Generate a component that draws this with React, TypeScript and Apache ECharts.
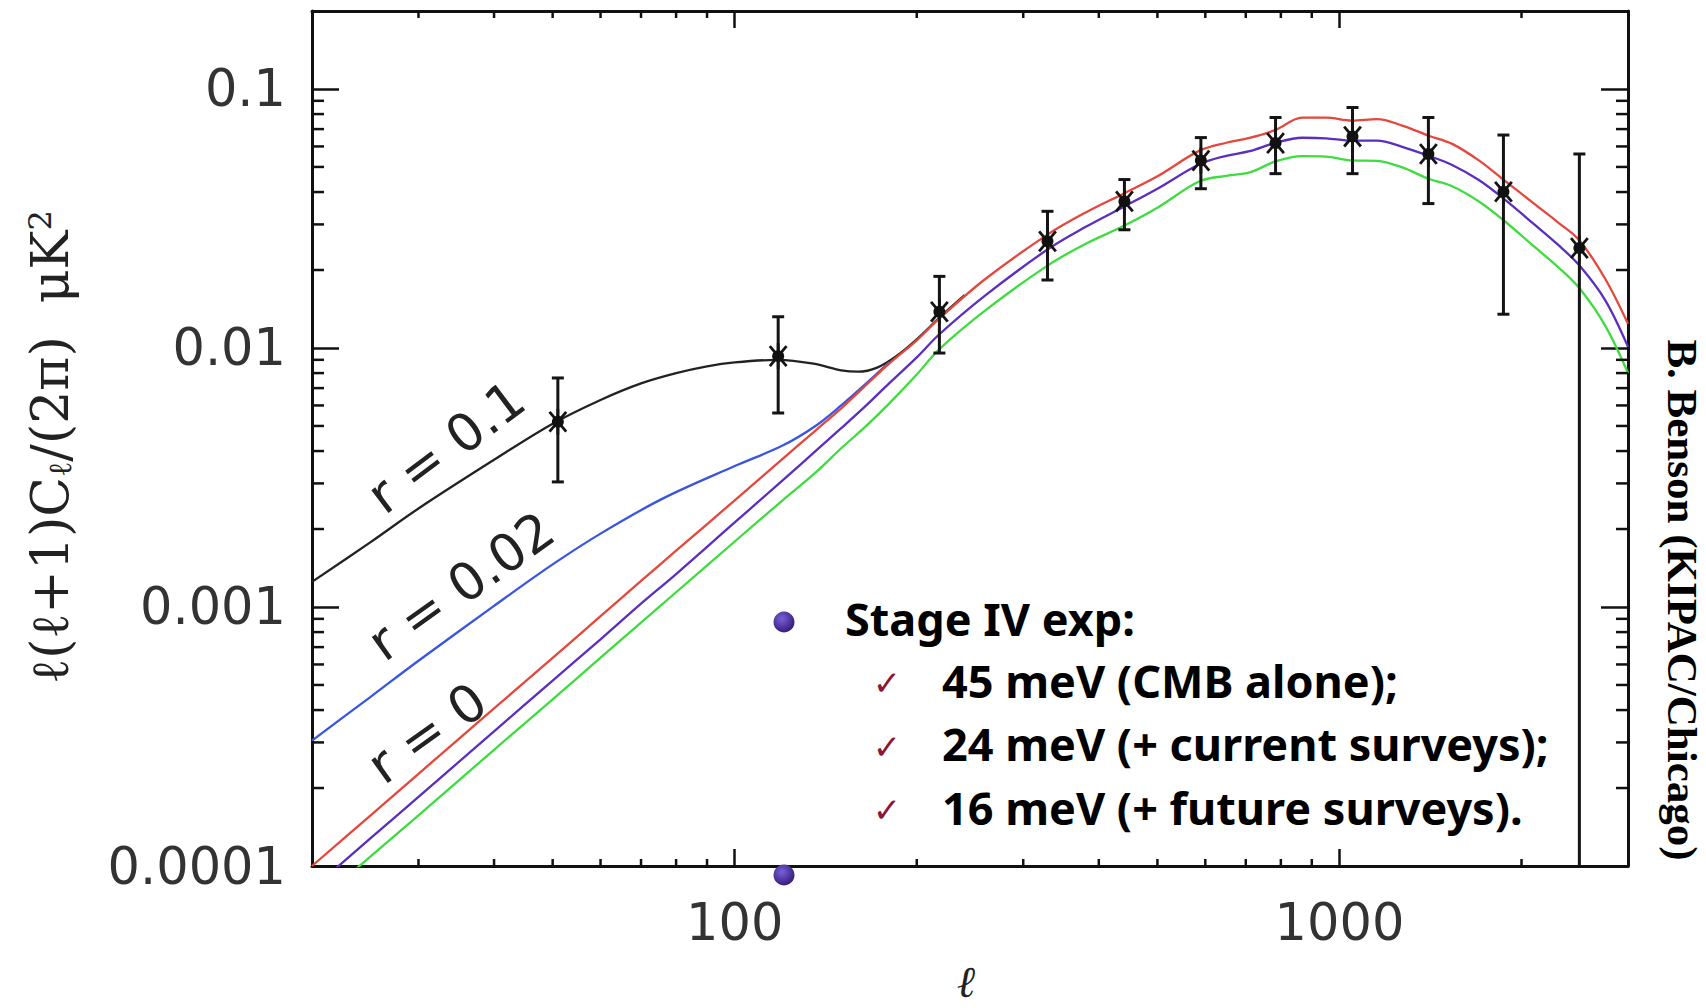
import React, { useEffect, useRef } from 'react';
import * as echarts from 'echarts';

// ---- axis ranges ----
const X_MIN = 20;
const X_MAX = 3000;
const Y_MIN = 0.0001;
const Y_MAX = 0.2;

const X_TICK_LABELS = ['100', '1000'];
const Y_TICK_LABELS = ['0.0001', '0.001', '0.01', '0.1'];
const MINOR_X = [30, 40, 50, 60, 70, 80, 90, 200, 300, 400, 500, 600, 700, 800, 900, 2000];
const MINOR_Y = [
  0.0002, 0.0003, 0.0004, 0.0005, 0.0006, 0.0007, 0.0008, 0.0009,
  0.002, 0.003, 0.004, 0.005, 0.006, 0.007, 0.008, 0.009,
  0.02, 0.03, 0.04, 0.05, 0.06, 0.07, 0.08, 0.09,
];

// ---- lensing B-mode curves (red / purple / green) ----
const ELL = [20, 25, 30, 40, 50, 60, 70, 80, 100, 120, 136, 150, 165, 180, 200, 218, 260, 329, 380, 441, 500, 587, 650, 710, 784, 868, 950, 1049, 1154, 1270, 1404, 1533, 1700, 1866, 2100, 2300, 2494, 2750, 3000];
const RED = [0.0001, 0.000157, 0.000227, 0.000406, 0.000636, 0.000922, 0.00126, 0.00165, 0.00258, 0.00373, 0.0048, 0.00585, 0.0072, 0.0087, 0.0107, 0.013, 0.0185, 0.0274, 0.0333, 0.0396, 0.046, 0.0578, 0.062, 0.0647, 0.0695, 0.0775, 0.0775, 0.0755, 0.0765, 0.0722, 0.066, 0.0615, 0.053, 0.0447, 0.036, 0.0305, 0.026, 0.0185, 0.0124];
const PURPLE = [0.0000815, 0.000128, 0.000185, 0.000331, 0.00052, 0.00075, 0.00103, 0.00134, 0.00212, 0.00308, 0.004, 0.0049, 0.006, 0.0073, 0.0092, 0.0113, 0.016, 0.024, 0.0293, 0.0352, 0.0412, 0.0512, 0.0552, 0.0575, 0.062, 0.0648, 0.0645, 0.0632, 0.0632, 0.0598, 0.0552, 0.051, 0.0445, 0.0378, 0.03, 0.025, 0.0208, 0.0153, 0.0101];
const GREEN = [0.0000693, 0.000109, 0.000157, 0.000281, 0.00044, 0.000637, 0.000871, 0.00114, 0.00179, 0.00258, 0.0033, 0.0041, 0.005, 0.0061, 0.0079, 0.0099, 0.014, 0.0208, 0.0252, 0.0297, 0.0348, 0.044, 0.0462, 0.0476, 0.0525, 0.055, 0.0548, 0.053, 0.0528, 0.0498, 0.045, 0.0422, 0.0368, 0.0312, 0.0246, 0.0205, 0.017, 0.0122, 0.008];

// ---- r = 0.02 (blue) and r = 0.1 (black) totals ----
const BLUE_ELL = [20, 25, 30, 40, 50, 60, 76, 100, 120, 136, 150, 165, 180];
const BLUE = [0.000305, 0.00045, 0.00062, 0.00101, 0.00146, 0.00192, 0.00262, 0.0035, 0.0042, 0.005, 0.006, 0.0073, 0.0088];
const BLACK_ELL = [20, 25, 30, 40, 50, 60, 70, 80, 90, 100, 118, 135, 150, 160, 172, 185, 200, 218, 240];
const BLACK = [0.00125, 0.00178, 0.0024, 0.0037, 0.0051, 0.0063, 0.0073, 0.008, 0.0085, 0.0088, 0.009, 0.0087, 0.0082, 0.0081, 0.0084, 0.0093, 0.0108, 0.0131, 0.016];

// ---- data points with error bars ----
const PT_ELL = [51, 118, 218, 329, 441, 590, 784, 1051, 1403, 1867, 2493];
const PT_VAL = [0.00519, 0.0093, 0.0138, 0.0258, 0.0368, 0.0529, 0.0618, 0.0655, 0.0561, 0.0401, 0.0243];
const PT_LO = [0.00304, 0.00561, 0.00956, 0.0183, 0.0286, 0.0412, 0.0471, 0.0471, 0.0361, 0.0135, 0.0001];
const PT_HI = [0.00766, 0.0132, 0.0189, 0.0337, 0.0447, 0.0649, 0.0776, 0.0848, 0.0776, 0.0664, 0.0561];

// ---- texts ----
const CURVE_NOTES = ['r = 0.1', 'r = 0.02', 'r = 0'];
const BULLET_TITLE = 'Stage IV exp:';
const BULLET_ITEMS = ['45 meV (CMB alone);', '24 meV (+ current surveys);', '16 meV (+ future surveys).'];
const CREDIT = 'B. Benson (KIPAC/Chicago)';

const AXIS_COLOR = '#111';
const TICK_FONT = 'DejaVu Sans';

function xLabel(v: number) {
  const s = String(Math.round(v));
  return X_TICK_LABELS.includes(s) ? s : '';
}
function yLabel(v: number) {
  const lg = Math.log10(v);
  const e = Math.round(lg);
  if (Math.abs(lg - e) > 1e-6 || e >= 0) return '';
  const s = Math.pow(10, e).toFixed(-e);
  return Y_TICK_LABELS.includes(s) ? s : '';
}

function makeXAxis(position: 'bottom' | 'top') {
  return {
    type: 'log',
    logBase: 10,
    min: X_MIN,
    max: X_MAX,
    position,
    axisLine: { show: true, onZero: false, lineStyle: { color: AXIS_COLOR, width: 3 } },
    axisTick: { show: true, inside: true, length: 17, lineStyle: { color: AXIS_COLOR, width: 2.5 } },
    axisLabel: {
      show: position === 'bottom',
      margin: 31,
      fontFamily: TICK_FONT,
      fontSize: 51,
      color: '#333',
      showMinLabel: false,
      showMaxLabel: false,
      formatter: xLabel,
    },
    splitLine: { show: false },
  };
}
function makeYAxis(position: 'left' | 'right') {
  return {
    type: 'log',
    logBase: 10,
    min: Y_MIN,
    max: Y_MAX,
    position,
    axisLine: { show: true, onZero: false, lineStyle: { color: AXIS_COLOR, width: 3 } },
    axisTick: { show: true, inside: true, length: 27, lineStyle: { color: AXIS_COLOR, width: 2.5 } },
    axisLabel: {
      show: position === 'left',
      margin: 26,
      fontFamily: TICK_FONT,
      fontSize: 51,
      color: '#333',
      showMinLabel: true,
      showMaxLabel: false,
      formatter: yLabel,
    },
    splitLine: { show: false },
  };
}

function lineSeries(name: string, ells: number[], vals: number[], color: string, z: number) {
  return {
    name,
    type: 'line',
    data: ells.map((l, i) => [l, vals[i]]),
    smooth: 0.35,
    showSymbol: false,
    symbol: 'none',
    clip: true,
    lineStyle: { color, width: 2.3 },
    z,
  };
}

const centered = { align: 'center', verticalAlign: 'middle', textAlign: 'center', textVerticalAlign: 'middle' };
const leftMid = { align: 'left', verticalAlign: 'middle', textAlign: 'left', textVerticalAlign: 'middle' };

export default function App() {
  const ref = useRef<HTMLDivElement>(null);

  useEffect(() => {
    if (!ref.current) return;
    const chart = echarts.init(ref.current, undefined, { renderer: 'svg' });

    const tickStyle = { stroke: AXIS_COLOR, lineWidth: 2.5 };

    const option: any = {
      animation: false,
      backgroundColor: '#fff',
      grid: { left: 312, right: 78, top: 11, bottom: 142, containLabel: false, outerBoundsMode: 'none' },
      xAxis: [makeXAxis('bottom'), makeXAxis('top')],
      yAxis: [makeYAxis('left'), makeYAxis('right')],
      series: [
        lineSeries('r = 0.1', BLACK_ELL, BLACK, '#222222', 2),
        lineSeries('r = 0.02', BLUE_ELL, BLUE, '#3a55e0', 2),
        lineSeries('green', ELL, GREEN, '#3fdc3f', 3),
        lineSeries('purple', ELL, PURPLE, '#5a2ec0', 3),
        lineSeries('red', ELL, RED, '#e5473c', 3),
        {
          name: 'minorX',
          type: 'custom',
          xAxisIndex: 0,
          yAxisIndex: 0,
          data: MINOR_X.map((v) => [v, Y_MIN]),
          encode: { x: 0, y: 1 },
          z: 6,
          silent: true,
          renderItem: (_p: any, api: any) => {
            const v = api.value(0);
            const b = api.coord([v, Y_MIN]);
            const t = api.coord([v, Y_MAX]);
            return {
              type: 'group',
              children: [
                { type: 'line', shape: { x1: b[0], y1: b[1], x2: b[0], y2: b[1] - 7 }, style: tickStyle },
                { type: 'line', shape: { x1: t[0], y1: t[1], x2: t[0], y2: t[1] + 7 }, style: tickStyle },
              ],
            };
          },
        },
        {
          name: 'minorY',
          type: 'custom',
          xAxisIndex: 0,
          yAxisIndex: 0,
          data: MINOR_Y.map((v) => [X_MIN, v]),
          encode: { x: 0, y: 1 },
          z: 6,
          silent: true,
          renderItem: (_p: any, api: any) => {
            const v = api.value(1);
            const l = api.coord([X_MIN, v]);
            const r = api.coord([X_MAX, v]);
            return {
              type: 'group',
              children: [
                { type: 'line', shape: { x1: l[0], y1: l[1], x2: l[0] + 12, y2: l[1] }, style: tickStyle },
                { type: 'line', shape: { x1: r[0], y1: r[1], x2: r[0] - 12, y2: r[1] }, style: tickStyle },
              ],
            };
          },
        },
        {
          name: 'points',
          type: 'custom',
          xAxisIndex: 0,
          yAxisIndex: 0,
          data: PT_ELL.map((l, i) => [l, PT_VAL[i], PT_LO[i], PT_HI[i]]),
          encode: { x: 0, y: 1 },
          z: 8,
          renderItem: (_p: any, api: any) => {
            const x = api.value(0);
            const c = api.coord([x, api.value(1)]);
            const lo = api.value(2);
            const l = api.coord([x, lo]);
            const h = api.coord([x, api.value(3)]);
            const st = { stroke: '#141414', lineWidth: 3 };
            const ss = { stroke: '#141414', lineWidth: 2.8 };
            const arm = 13;
            const dx = arm * Math.cos((50 * Math.PI) / 180);
            const dy = arm * Math.sin((50 * Math.PI) / 180);
            const children: any[] = [
              { type: 'line', shape: { x1: h[0], y1: h[1], x2: l[0], y2: l[1] }, style: st },
              { type: 'line', shape: { x1: h[0] - 6, y1: h[1], x2: h[0] + 6, y2: h[1] }, style: st },
              { type: 'line', shape: { x1: c[0], y1: c[1] - arm, x2: c[0], y2: c[1] + arm }, style: ss },
              { type: 'line', shape: { x1: c[0] - dx, y1: c[1] - dy, x2: c[0] + dx, y2: c[1] + dy }, style: ss },
              { type: 'line', shape: { x1: c[0] - dx, y1: c[1] + dy, x2: c[0] + dx, y2: c[1] - dy }, style: ss },
              { type: 'circle', shape: { cx: c[0], cy: c[1], r: 6 }, style: { fill: '#111' } },
            ];
            if (lo > Y_MIN) {
              children.push({ type: 'line', shape: { x1: l[0] - 6, y1: l[1], x2: l[0] + 6, y2: l[1] }, style: st });
            }
            return { type: 'group', children };
          },
        },
      ],
      graphic: [
        // y-axis title
        {
          type: 'text',
          x: 50,
          y: 447,
          rotation: Math.PI / 2,
          style: {
            text: '{a|ℓ(ℓ+1)C}{s|ℓ}{a|/(2π)  μK}{p|2}',
            ...centered,
            fill: '#222',
            rich: {
              a: { fontFamily: 'DejaVu Serif', fontSize: 52, fill: '#222', color: '#222' },
              s: { fontFamily: 'DejaVu Serif', fontSize: 32, fill: '#222', color: '#222', verticalAlign: 'bottom' },
              p: { fontFamily: 'DejaVu Serif', fontSize: 32, fill: '#222', color: '#222', verticalAlign: 'top' },
            },
          },
        },
        // x-axis title
        {
          type: 'text',
          x: 966,
          y: 981,
          style: {
            text: 'ℓ',
            fontFamily: 'DejaVu Serif',
            fontStyle: 'italic',
            fontSize: 44,
            fill: '#222',
            ...centered,
          },
        },
        // curve annotations
        ...[
          [446, 447, 37],
          [461, 586, 35.5],
          [427, 733, 35.5],
        ].map((p, i) => ({
          type: 'text',
          x: p[0],
          y: p[1],
          rotation: (p[2] * Math.PI) / 180,
          style: {
            text: CURVE_NOTES[i],
            fontFamily: 'DejaVu Sans',
            fontSize: 52,
            fill: '#222',
            ...centered,
          },
        })),
        // credit
        {
          type: 'text',
          x: 1682,
          y: 600,
          rotation: -Math.PI / 2,
          style: {
            text: CREDIT,
            fontFamily: 'Liberation Serif',
            fontWeight: 'bold',
            fontSize: 43,
            fill: '#000',
            ...centered,
          },
        },
        // bullets
        ...[622, 875].map((cy) => ({
          type: 'circle',
          shape: { cx: 784, cy, r: 10.5 },
          z: 100,
          style: {
            fill: {
              type: 'radial',
              x: 0.4,
              y: 0.35,
              r: 0.75,
              colorStops: [
                { offset: 0, color: '#7a5fd8' },
                { offset: 1, color: '#2a1470' },
              ],
            },
          },
        })),
        {
          type: 'text',
          x: 845,
          y: 618,
          z: 100,
          style: {
            text: BULLET_TITLE,
            fontFamily: 'Noto Sans',
            fontWeight: 'bold',
            fontSize: 45,
            fill: '#000',
            ...leftMid,
          },
        },
        ...BULLET_ITEMS.map((t, i) => ({
          type: 'group',
          z: 100,
          children: [
            {
              type: 'text',
              x: 887,
              y: 683 + i * 63.5,
              style: {
                text: '✓',
                fontFamily: 'DejaVu Sans',
                fontSize: 34,
                fill: '#8a1538',
                ...centered,
              },
            },
            {
              type: 'text',
              x: 942,
              y: 680 + i * 63.5,
              style: {
                text: t,
                fontFamily: 'Noto Sans',
                fontWeight: 'bold',
                fontSize: 45,
                fill: '#000',
                ...leftMid,
              },
            },
          ],
        })),
      ],
    };

    chart.setOption(option);
    return () => chart.dispose();
  }, []);

  return (
    <div
      ref={ref}
      style={{ position: 'fixed', left: 0, top: 0, width: 1706, height: 1008, background: '#fff' }}
    />
  );
}
